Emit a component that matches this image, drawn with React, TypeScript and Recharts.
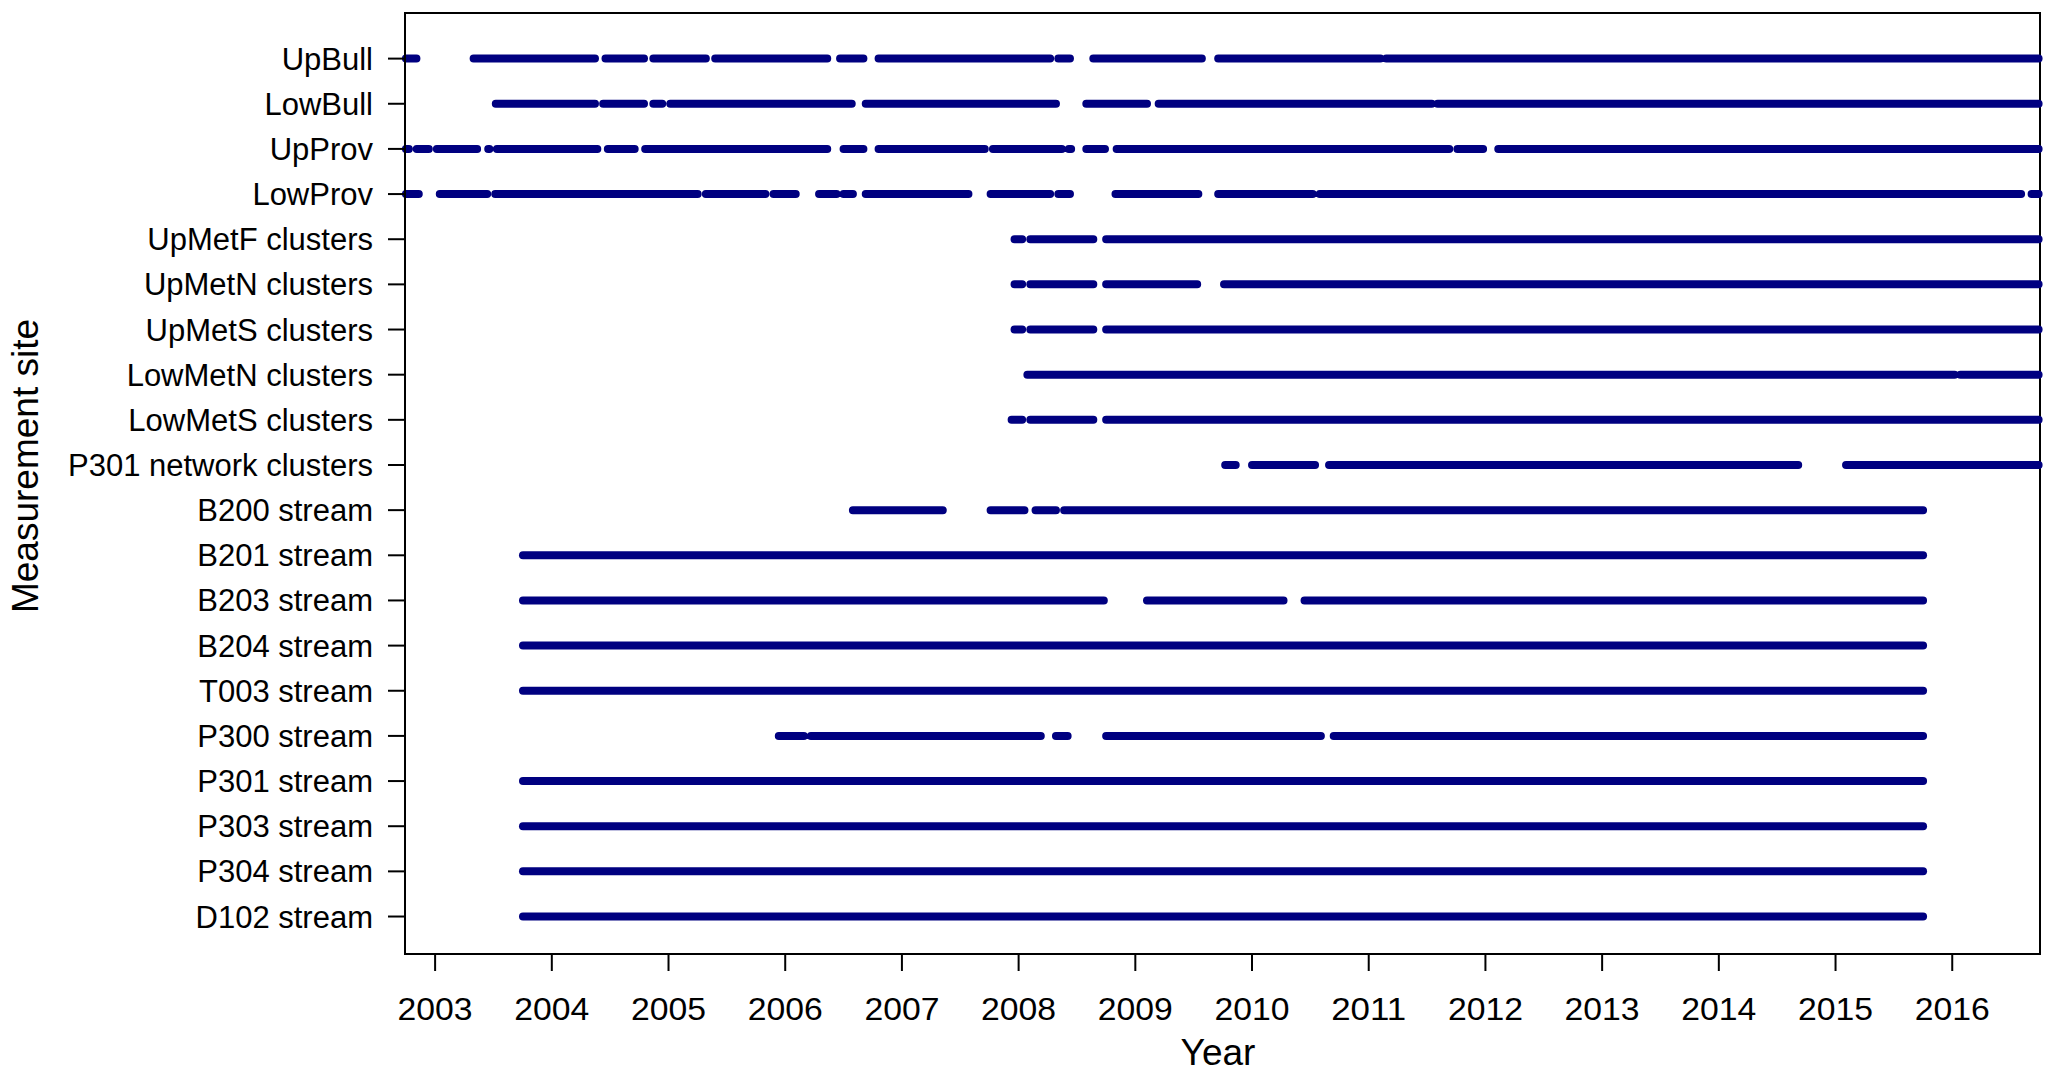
import { LineChart, Line, XAxis, YAxis, ReferenceArea } from 'recharts';

type Seg = [number, number];

const sites = [
  'UpBull',
  'LowBull',
  'UpProv',
  'LowProv',
  'UpMetF clusters',
  'UpMetN clusters',
  'UpMetS clusters',
  'LowMetN clusters',
  'LowMetS clusters',
  'P301 network clusters',
  'B200 stream',
  'B201 stream',
  'B203 stream',
  'B204 stream',
  'T003 stream',
  'P300 stream',
  'P301 stream',
  'P303 stream',
  'P304 stream',
  'D102 stream',
];

const yearTicks = [2003, 2004, 2005, 2006, 2007, 2008, 2009, 2010, 2011, 2012, 2013, 2014, 2015, 2016];

const upBull: Seg[] = [
  [2002.75, 2002.84], [2003.33, 2004.37], [2004.46, 2004.79], [2004.87, 2005.32],
  [2005.4, 2006.36], [2006.47, 2006.67], [2006.8, 2008.27], [2008.34, 2008.44],
  [2008.64, 2009.57], [2009.71, 2011.1], [2011.15, 2016.74],
];
const lowBull: Seg[] = [
  [2003.52, 2004.37], [2004.44, 2004.79], [2004.87, 2004.946], [2005.015, 2006.57],
  [2006.69, 2008.32], [2008.58, 2009.1], [2009.2, 2011.54], [2011.59, 2016.74],
];
const upProv: Seg[] = [
  [2002.75, 2002.775], [2002.843, 2002.946], [2003.015, 2003.36], [2003.455, 2003.465],
  [2003.53, 2004.39], [2004.48, 2004.71], [2004.8, 2006.36], [2006.5, 2006.67],
  [2006.8, 2007.71], [2007.78, 2008.37], [2008.43, 2008.45], [2008.58, 2008.74],
  [2008.84, 2011.69], [2011.76, 2011.98], [2012.11, 2016.74],
];
const lowProv: Seg[] = [
  [2002.75, 2002.86], [2003.04, 2003.446], [2003.515, 2005.25], [2005.32, 2005.83],
  [2005.9, 2006.09], [2006.29, 2006.44], [2006.5, 2006.58], [2006.69, 2007.57],
  [2007.76, 2008.27], [2008.34, 2008.44], [2008.83, 2009.54], [2009.71, 2010.52],
  [2010.58, 2016.59], [2016.68, 2016.74],
];
const upMetF: Seg[] = [[2007.965, 2008.03], [2008.1, 2008.64], [2008.75, 2016.74]];
const upMetN: Seg[] = [[2007.965, 2008.03], [2008.1, 2008.64], [2008.75, 2009.53], [2009.76, 2016.74]];
const upMetS: Seg[] = [[2007.965, 2008.03], [2008.1, 2008.64], [2008.75, 2016.74]];
const lowMetN: Seg[] = [[2008.075, 2016.02], [2016.07, 2016.74]];
const lowMetS: Seg[] = [[2007.94, 2008.03], [2008.1, 2008.64], [2008.75, 2016.74]];
const p301Net: Seg[] = [[2009.77, 2009.86], [2010.0, 2010.54], [2010.66, 2014.68], [2015.09, 2016.74]];
const b200: Seg[] = [[2006.58, 2007.35], [2007.76, 2008.05], [2008.145, 2008.32], [2008.39, 2015.75]];
const b201: Seg[] = [[2003.753, 2015.75]];
const b203: Seg[] = [[2003.753, 2008.73], [2009.1, 2010.27], [2010.45, 2015.75]];
const b204: Seg[] = [[2003.753, 2015.75]];
const t003: Seg[] = [[2003.753, 2015.75]];
const p300: Seg[] = [
  [2005.945, 2006.16], [2006.22, 2008.19], [2008.32, 2008.42],
  [2008.75, 2010.59], [2010.7, 2015.75],
];
const p301: Seg[] = [[2003.753, 2015.75]];
const p303: Seg[] = [[2003.753, 2015.75]];
const p304: Seg[] = [[2003.753, 2015.75]];
const d102: Seg[] = [[2003.753, 2015.75]];

const rowSegments = [
  upBull, lowBull, upProv, lowProv, upMetF, upMetN, upMetS, lowMetN, lowMetS, p301Net,
  b200, b201, b203, b204, t003, p300, p301, p303, p304, d102,
];

const X_MIN = 2002.742;
const X_MAX = 2016.752;
const Y_MIN = -1.01;
const Y_MAX = 19.83;

const NAVY = '#000080';
const FONT = '"Liberation Sans", Arial, sans-serif';

// one line per row, null points break it into separate periods
const toRowData = (segs: Seg[], row: number) => {
  const pts: { x: number; y: number | null }[] = [];
  segs.forEach(([s, e], i) => {
    if (i > 0) pts.push({ x: (segs[i - 1][1] + s) / 2, y: null });
    pts.push({ x: s, y: row }, { x: e, y: row });
  });
  return pts;
};

// year labels in the source are drawn a bit wider than the font
const YearTick = (props: any) => {
  const { x, y, payload } = props;
  return (
    <text
      x={x}
      y={y + 22}
      textAnchor="middle"
      fontSize={31}
      fontFamily={FONT}
      fill="#000"
      textLength={75}
      lengthAdjust="spacingAndGlyphs"
    >
      {payload.value}
    </text>
  );
};

const YTitle = () => (
  <text
    x={38}
    y={466}
    transform="rotate(-90, 38, 466)"
    textAnchor="middle"
    fontSize={37}
    fontFamily={FONT}
    fill="#000"
  >
    Measurement site
  </text>
);

const XTitle = () => (
  <text x={1218} y={1065} textAnchor="middle" fontSize={37} fontFamily={FONT} fill="#000">
    Year
  </text>
);

export default function App() {
  return (
    <div style={{ position: 'absolute', left: 0, top: 0, background: '#fff' }}>
      <LineChart
        width={2057}
        height={1077}
        margin={{ top: 13, right: 17, bottom: 0, left: 0 }}
        style={{ fontFamily: FONT }}
      >
        <XAxis
          dataKey="x"
          type="number"
          domain={[X_MIN, X_MAX]}
          ticks={yearTicks}
          height={123}
          tickSize={17}
          tickMargin={27}
          tick={<YearTick />}
          axisLine={{ stroke: '#000', strokeWidth: 2 }}
          tickLine={{ stroke: '#000', strokeWidth: 2 }}
          label={{ content: () => <XTitle /> }}
        />
        <YAxis
          dataKey="y"
          type="number"
          reversed
          domain={[Y_MIN, Y_MAX]}
          ticks={sites.map((_, i) => i)}
          interval={0}
          tickFormatter={(v: number) => sites[v] ?? ''}
          width={405}
          tickSize={17}
          tickMargin={15}
          tick={{ fill: '#000', fontSize: 31, fontFamily: FONT }}
          axisLine={{ stroke: '#000', strokeWidth: 2 }}
          tickLine={{ stroke: '#000', strokeWidth: 2 }}
          label={{ content: () => <YTitle /> }}
        />
        <ReferenceArea
          x1={X_MIN}
          x2={X_MAX}
          y1={Y_MIN}
          y2={Y_MAX}
          fill="none"
          stroke="#000"
          strokeWidth={2}
          ifOverflow="visible"
        />
        {rowSegments.map((segs, row) => (
          <Line
            key={sites[row]}
            data={toRowData(segs, row)}
            dataKey="y"
            type="linear"
            stroke={NAVY}
            strokeWidth={8}
            strokeLinecap="round"
            strokeLinejoin="round"
            dot={false}
            activeDot={false}
            connectNulls={false}
            isAnimationActive={false}
          />
        ))}
      </LineChart>
    </div>
  );
}
